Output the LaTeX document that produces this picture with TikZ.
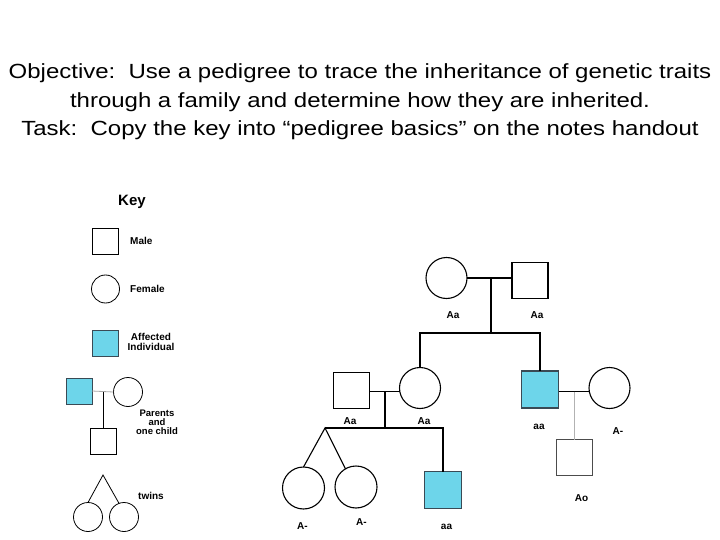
\documentclass[tikz,border=0pt]{standalone}
\usepackage{fontspec}
\setmainfont{Liberation Sans}
\newfontfamily\titlefont[FakeStretch=1.17]{Liberation Sans}
\usepackage{tikz}
\usetikzlibrary{positioning, calc}
\definecolor{affectCyan}{HTML}{6DD5EA}
\definecolor{affectEdge}{HTML}{3A4A55}
\tikzset{
    male_box/.style={
        rectangle, draw=black, line width=1.1pt, fill=white,
        minimum size=36pt, inner sep=0pt, outer sep=0pt
    },
    female_circ/.style={
        circle, draw=black, line width=1.1pt, fill=white,
        minimum size=41pt, inner sep=0pt, outer sep=0pt
    },
    affected_box/.style={
        male_box, draw=affectEdge, fill=affectCyan, minimum size=37pt
    },
    key_male/.style={male_box, line width=0.8pt, minimum size=26pt},
    key_female/.style={female_circ, line width=0.8pt, minimum size=28pt},
    key_aff/.style={affected_box, line width=0.8pt, minimum size=26pt},
    link/.style={draw=black, line width=1.1pt},
    key_link/.style={draw=black, line width=0.8pt},
    geno_lbl/.style={font=\fontsize{10}{12}\selectfont\bfseries, inner sep=1pt},
    key_lbl/.style={font=\fontsize{10}{10}\selectfont\bfseries, inner sep=0pt, align=center},
    title_txt/.style={font=\titlefont\fontsize{20.5}{28.5}\selectfont, align=center}
}

\begin{document}
\begin{tikzpicture}[x=1pt, y=-1pt]
    \useasboundingbox[fill=white] (0,0) rectangle (720,540);

    % Title lines
    \node[title_txt] (objective) at (360,102) {Objective:\ \ Use a pedigree to trace the inheritance of genetic traits\\through a family and determine how they are inherited.\\Task:\ \ Copy the key into “pedigree basics” on the notes handout};

    % Key column
    \node[font=\fontsize{15}{15}\selectfont\bfseries] (key_title) at (132,202) {Key};
    \node[key_male] (k_male) at (105,241) {};
    \node[key_lbl, anchor=west] (k_male_txt) at (130,241) {Male};
    \node[key_female] (k_female) at (105.5,289) {};
    \node[key_lbl, anchor=west] (k_female_txt) at (130,289) {Female};
    \node[key_aff] (k_aff) at (105,343.5) {};
    \node[key_lbl, font=\fontsize{10}{9.5}\selectfont\bfseries] (k_aff_txt) at (151,342) {Affected\\Individual};

    % Key: parents and one child
    \node[key_aff] (k_dad) at (79,391) {};
    \node[key_female, minimum size=29pt] (k_mom) at (128,392) {};
    \node[key_male] (k_kid) at (103,441) {};
    \coordinate (k_pair) at (103,392);
    \draw[key_link, draw=black!35] (k_dad.east) -- (k_mom.west);
    \draw[key_link] (k_pair) -- (k_kid.north);
    \node[key_lbl, font=\fontsize{9.5}{9}\selectfont\bfseries] (k_pair_txt) at (157,422) {Parents\\and\\one child};

    % Key: twins
    \node[key_female, minimum size=29pt] (k_tw1) at (88,517) {};
    \node[key_female, minimum size=29pt] (k_tw2) at (124,517) {};
    \coordinate (k_apex) at (103,475);
    \draw[key_link] (k_tw1.north) -- (k_apex) -- (k_tw2.110);
    \node[key_lbl, anchor=west] (k_tw_txt) at (138,496) {twins};

    % Generation I
    \node[female_circ] (g1_mom) at (446.5,278) {};
    \node[male_box] (g1_dad) at (530,280.5) {};
    \node[geno_lbl] (g1_mom_gt) at (453,315) {Aa};
    \node[geno_lbl] (g1_dad_gt) at (537,315) {Aa};
    \coordinate (g1_pair) at (491,278);
    \coordinate (g1_sib) at (491,333);
    \draw[link] (g1_mom.east) -- (g1_mom.east -| g1_dad.west);
    \draw[link] (g1_pair) -- (g1_sib);

    % Generation II
    \node[male_box] (g2_inlaw) at (351.5,390.5) {};
    \node[female_circ] (g2_dau) at (420,388) {};
    \node[affected_box] (g2_son) at (540,389.5) {};
    \node[female_circ] (g2_wife) at (609.5,388) {};
    \node[geno_lbl] (g2_inlaw_gt) at (350,421.5) {Aa};
    \node[geno_lbl] (g2_dau_gt) at (424,421.5) {Aa};
    \node[geno_lbl] (g2_son_gt) at (539,427) {aa};
    \node[geno_lbl] (g2_wife_gt) at (618,431.5) {A-};
    \draw[link] (g2_dau.north) |- (g2_son.north |- g1_sib) -- (g2_son.north);
    \draw[link] (g2_inlaw.east |- 0,391.5) -- (g2_dau.west |- 0,391.5);
    \draw[link] (g2_son.east |- 0,391.5) -- (g2_wife.west |- 0,391.5);

    % Generation III, left family
    \node[female_circ, minimum size=42pt] (g3_tw1) at (303.5,488) {};
    \node[female_circ, minimum size=42pt] (g3_tw2) at (356,487) {};
    \node[affected_box] (g3_son) at (443,490) {};
    \node[geno_lbl] (g3_tw1_gt) at (302.5,526) {A-};
    \node[geno_lbl] (g3_tw2_gt) at (361.5,522) {A-};
    \node[geno_lbl] (g3_son_gt) at (446.5,527) {aa};
    \coordinate (g2_pair) at (385,391.5);
    \coordinate (g2_apex) at (325,428);
    \draw[link] (g2_pair) -- (g2_pair |- g2_apex);
    \draw[link] (g2_apex) -| (g3_son.north);
    \draw[link] (g3_tw1.north) -- (g2_apex) -- (g3_tw2.120);

    % Generation III, right family
    \node[male_box, draw=black!70] (g3_kid) at (574.5,457.5) {};
    \node[geno_lbl] (g3_kid_gt) at (581.5,498) {Ao};
    \coordinate (g2_pair_r) at (574.5,391.5);
    \draw[link, draw=black!30] (g2_pair_r) -- (g3_kid.north);
\end{tikzpicture}
\end{document}
